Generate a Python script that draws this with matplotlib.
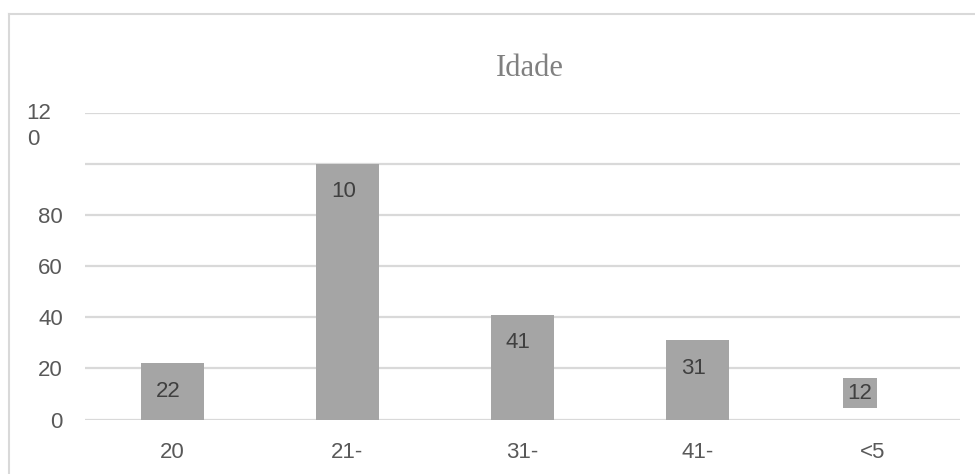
import numpy as np
import matplotlib
matplotlib.use('Agg')
import matplotlib.pyplot as plt
from matplotlib.lines import Line2D

# dados do gráfico
categorias = ['20', '21-', '31-', '41-', '<5']
valores = [22, 100, 41, 31, 12]
rotulos = ['22', '10', '41', '31', '12']
yticks = [0, 20, 40, 60, 80, 100, 120]
ytick_rotulos = ['0', '20', '40', '60', '80', '', '']

cinza_barra = '#A5A5A5'
cinza_texto = '#595959'
cinza_rotulo = '#404040'
cinza_grade = '#D9D9D9'

plt.rcParams['font.family'] = ['Liberation Sans', 'DejaVu Sans']

fig = plt.figure(figsize=(9.75, 4.74), dpi=100)
ax = fig.add_axes([85/975, 1 - 419.5/474, 875/975, 306.5/474])

x = np.arange(len(categorias))
# a última barra não aparece no original, só o rótulo
cores = [cinza_barra] * (len(valores) - 1) + ['none']
ax.bar(x, valores, width=0.36, color=cores, zorder=3)

# rótulos de dados
for i, (v, r) in enumerate(zip(valores, rotulos)):
    if i == len(valores) - 1:
        ax.annotate(r, xy=(i, v), xytext=(-9, -3), textcoords='offset points',
                    ha='center', va='center', fontsize=16, color=cinza_rotulo,
                    bbox=dict(boxstyle='square,pad=0.2', fc=cinza_barra, ec='none'),
                    zorder=4)
    else:
        ax.annotate(r, xy=(i, v), xytext=(-3, -20), textcoords='offset points',
                    ha='center', va='center', fontsize=16, color=cinza_rotulo,
                    zorder=4)

ax.set_xlim(-0.5, len(categorias) - 0.5)
ax.set_ylim(0, 120)
ax.set_xticks(x)
ax.set_xticklabels(categorias)
ax.set_yticks(yticks)
ax.set_yticklabels(ytick_rotulos)
ax.tick_params(axis='x', length=0, pad=16, labelsize=16, labelcolor=cinza_texto)
ax.tick_params(axis='y', length=0, pad=16, labelsize=16, labelcolor=cinza_texto)

# rótulo quebrado do 120
ax.annotate('12\n0', xy=(0, 120), xycoords=ax.get_yaxis_transform(),
            xytext=(-42, 7), textcoords='offset points', ha='left', va='top',
            fontsize=16, color=cinza_texto, linespacing=1.3)

ax.grid(axis='y', color=cinza_grade, linewidth=1.6, zorder=0)
for s in ax.spines.values():
    s.set_visible(False)

fig.text(530/975, 1 - 68/474, 'Idade', ha='center', va='center',
         fontsize=22, color='#808080', family=['Liberation Serif', 'DejaVu Serif'])

# moldura do gráfico
fig.add_artist(Line2D([8.5/975, 8.5/975], [0, 1 - 13.5/474], color=cinza_grade, linewidth=1.5))
fig.add_artist(Line2D([8.5/975, 1], [1 - 13.5/474, 1 - 13.5/474], color=cinza_grade, linewidth=1.5))

fig.savefig('out.png', dpi=100)
